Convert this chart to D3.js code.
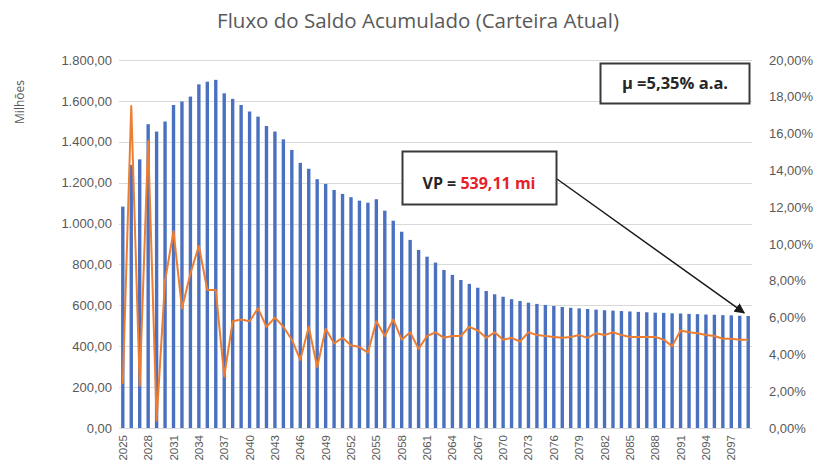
<!DOCTYPE html>
<html>
<head>
<meta charset="utf-8">
<script src="https://cdn.jsdelivr.net/npm/d3@7"></script>
<style>
  body { margin: 0; background: #fff; }
  svg { font-family: 'Open Sans', sans-serif; }
  .tick text { fill: #595959; }
</style>
</head>
<body>
<div id="chart"></div>
<script>
// anos (categorias)
const years = [2025, 2026, 2027, 2028, 2029, 2030, 2031, 2032, 2033, 2034,
  2035, 2036, 2037, 2038, 2039, 2040, 2041, 2042, 2043, 2044,
  2045, 2046, 2047, 2048, 2049, 2050, 2051, 2052, 2053, 2054,
  2055, 2056, 2057, 2058, 2059, 2060, 2061, 2062, 2063, 2064,
  2065, 2066, 2067, 2068, 2069, 2070, 2071, 2072, 2073, 2074,
  2075, 2076, 2077, 2078, 2079, 2080, 2081, 2082, 2083, 2084,
  2085, 2086, 2087, 2088, 2089, 2090, 2091, 2092, 2093, 2094,
  2095, 2096, 2097, 2098, 2099];

// saldo acumulado (milhoes)
const saldo = [1083, 1287, 1314, 1486, 1450, 1499, 1580, 1597, 1621, 1681,
  1694, 1703, 1637, 1610, 1580, 1548, 1523, 1477, 1450, 1412,
  1360, 1297, 1268, 1217, 1194, 1164, 1145, 1129, 1112, 1102,
  1119, 1063, 1014, 960, 920, 871, 838, 809, 773, 749,
  724, 705, 686, 670, 654, 642, 630, 621, 613, 607,
  602, 597, 592, 588, 585, 582, 579, 576, 574, 572,
  570, 568, 566, 564, 563, 561, 560, 558, 557, 555,
  554, 552, 551, 549, 548];

// taxa (% a.a.)
const taxa = [2.4, 17.5, 2.3, 15.6, 0.4, 8.0, 10.7, 6.5, 8.4, 9.9,
  7.5, 7.5, 2.8, 5.8, 5.9, 5.8, 6.5, 5.5, 6.0, 5.5,
  4.8, 3.7, 5.5, 3.3, 5.4, 4.6, 4.9, 4.5, 4.4, 4.1,
  5.8, 5.0, 5.9, 4.8, 5.2, 4.3, 5.0, 5.2, 4.9, 5.0,
  5.0, 5.5, 5.3, 4.9, 5.2, 4.8, 4.9, 4.7, 5.2, 5.05,
  5.0, 4.95, 4.9, 4.95, 5.05, 4.9, 5.15, 5.05, 5.2, 5.05,
  4.95, 4.95, 4.95, 4.95, 4.8, 4.45, 5.3, 5.2, 5.15, 5.05,
  5.0, 4.85, 4.85, 4.8, 4.8];

const leftTicks = [0, 200, 400, 600, 800, 1000, 1200, 1400, 1600, 1800];
const rightTicks = [0, 2, 4, 6, 8, 10, 12, 14, 16, 18, 20];
const yearTicks = [2025, 2028, 2031, 2034, 2037, 2040, 2043, 2046, 2049, 2052,
  2055, 2058, 2061, 2064, 2067, 2070, 2073, 2076, 2079, 2082,
  2085, 2088, 2091, 2094, 2097];

const title = 'Fluxo do Saldo Acumulado (Carteira Atual)';
const mediaLabel = 'μ =5,35% a.a.';
const vpLabel = 'VP = ';
const vpValue = '539,11 mi';

const width = 826, height = 474;
const margin = {top: 60, right: 74, bottom: 46, left: 119};

const pt = d3.formatLocale({decimal: ',', thousands: '.', grouping: [3], currency: ['R$', '']});
const fmtLeft = pt.format(',.2f');
const fmtRight = function (d) { return pt.format('.2f')(d) + '%'; };

const svg = d3.select('#chart').append('svg')
  .attr('width', width)
  .attr('height', height);

const x = d3.scaleBand()
  .domain(years)
  .range([margin.left, width - margin.right])
  .paddingInner(0.6)
  .paddingOuter(0.25);

const y = d3.scaleLinear()
  .domain([0, 1800])
  .range([height - margin.bottom, margin.top]);

const y2 = d3.scaleLinear()
  .domain([0, 20])
  .range([height - margin.bottom, margin.top]);

// title
svg.append('text')
  .attr('x', 418)
  .attr('y', 28)
  .attr('text-anchor', 'middle')
  .style('font-size', '20.5px')
  .style('fill', '#595959')
  .text(title);

// gridlines
svg.append('g')
  .selectAll('line')
  .data(leftTicks)
  .enter()
  .append('line')
  .attr('x1', margin.left)
  .attr('x2', width - margin.right)
  .attr('y1', function (d) { return Math.round(y(d)) + 0.5; })
  .attr('y2', function (d) { return Math.round(y(d)) + 0.5; })
  .style('stroke', '#d9d9d9')
  .style('stroke-width', 1);

// left axis
const gLeft = svg.append('g')
  .attr('transform', `translate(${margin.left - 7},0)`)
  .call(d3.axisLeft(y).tickValues(leftTicks).tickFormat(fmtLeft).tickSize(0).tickPadding(0));
gLeft.select('.domain').remove();
gLeft.selectAll('text').style('font-size', '13px');

// right axis
const gRight = svg.append('g')
  .attr('transform', `translate(${width - margin.right + 17},0)`)
  .call(d3.axisRight(y2).tickValues(rightTicks).tickFormat(fmtRight).tickSize(0).tickPadding(0));
gRight.select('.domain').remove();
gRight.selectAll('text').style('font-size', '13px');

// x axis
const gX = svg.append('g')
  .attr('transform', `translate(0,${height - margin.bottom})`)
  .call(d3.axisBottom(x).tickValues(yearTicks).tickSize(0));
gX.select('.domain').remove();
gX.selectAll('text')
  .attr('y', 0)
  .attr('x', -7)
  .attr('dy', '0.35em')
  .attr('transform', 'rotate(-90)')
  .style('text-anchor', 'end')
  .style('font-size', '11.5px');

// y label
svg.append('text')
  .attr('transform', 'translate(24,102) rotate(-90)')
  .attr('text-anchor', 'middle')
  .style('font-size', '12px')
  .style('fill', '#595959')
  .text('Milhões');

// bars
svg.append('g')
  .selectAll('rect')
  .data(years)
  .enter()
  .append('rect')
  .attr('x', function (d) { return x(d); })
  .attr('y', function (d, i) { return y(saldo[i]); })
  .attr('width', x.bandwidth())
  .attr('height', function (d, i) { return y(0) - y(saldo[i]); })
  .style('fill', '#4a70c0');

// line
const line = d3.line()
  .x(function (d, i) { return x(years[i]) + x.bandwidth() / 2; })
  .y(function (d) { return y2(d); });

svg.append('path')
  .datum(taxa)
  .attr('d', line)
  .style('fill', 'none')
  .style('stroke', '#ed7d31')
  .style('stroke-width', 2)
  .style('stroke-linejoin', 'round');

// media box
svg.append('rect')
  .attr('x', 600.5)
  .attr('y', 63.5)
  .attr('width', 149)
  .attr('height', 40)
  .style('fill', '#fff')
  .style('stroke', '#3a3a3a')
  .style('stroke-width', 2);
svg.append('text')
  .attr('x', 675)
  .attr('y', 89)
  .attr('text-anchor', 'middle')
  .style('font-size', '16.5px')
  .style('font-weight', 'bold')
  .style('fill', '#262626')
  .text(mediaLabel);

// arrow
svg.append('defs').append('marker')
  .attr('id', 'arrow')
  .attr('viewBox', '0 0 10 10')
  .attr('refX', 9)
  .attr('refY', 5)
  .attr('markerWidth', 7)
  .attr('markerHeight', 7)
  .attr('orient', 'auto')
  .append('path')
  .attr('d', 'M0,0L10,5L0,10Z')
  .style('fill', '#1a1a1a');

const lastYear = years[years.length - 1];
svg.append('line')
  .attr('x1', 557)
  .attr('y1', 179)
  .attr('x2', x(lastYear) + x.bandwidth() / 2 - 4)
  .attr('y2', y(saldo[saldo.length - 1]) - 3)
  .style('stroke', '#1a1a1a')
  .style('stroke-width', 1.5)
  .attr('marker-end', 'url(#arrow)');

// VP box
svg.append('rect')
  .attr('x', 402.5)
  .attr('y', 151.5)
  .attr('width', 154)
  .attr('height', 53)
  .style('fill', '#fff')
  .style('stroke', '#3a3a3a')
  .style('stroke-width', 2);
const vp = svg.append('text')
  .attr('x', 479)
  .attr('y', 189)
  .attr('text-anchor', 'middle')
  .style('font-size', '16px')
  .style('font-weight', 'bold');
vp.append('tspan').style('fill', '#262626').text(vpLabel);
vp.append('tspan').style('fill', '#e8202a').text(vpValue);
</script>
</body>
</html>
